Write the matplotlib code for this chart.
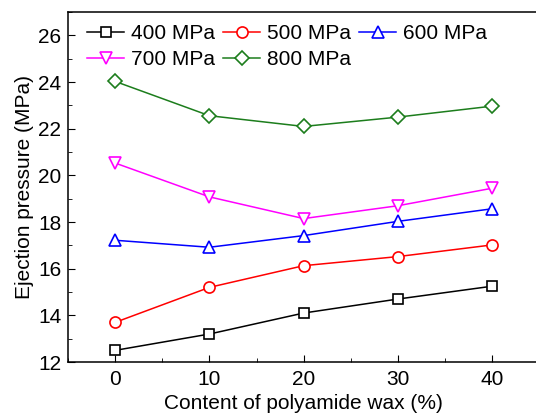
import matplotlib
matplotlib.use("Agg")
import matplotlib.pyplot as plt
from matplotlib.ticker import MultipleLocator

plt.rcParams['font.family'] = ['Liberation Sans', 'DejaVu Sans']

content = [0, 10, 20, 30, 40]
p400 = [12.5, 13.2, 14.1, 14.7, 15.25]
p500 = [13.7, 15.2, 16.13, 16.52, 17.02]
p600 = [17.22, 16.92, 17.42, 18.03, 18.57]
p700 = [20.53, 19.08, 18.15, 18.7, 19.45]
p800 = [24.03, 22.56, 22.1, 22.5, 22.97]

series = [
    ("400 MPa", p400, "black", "s"),
    ("500 MPa", p500, "#ff0000", "o"),
    ("600 MPa", p600, "#0000ff", "^"),
    ("700 MPa", p700, "#ff00ff", "v"),
    ("800 MPa", p800, "#1c7d1c", "D"),
]

fig = plt.figure(figsize=(5.36, 4.19), dpi=100)
ax = fig.add_axes([0.127, 0.136, 0.879, 0.835])

lines = []
for name, vals, col, mk in series:
    ms = 7 if mk in ("s", "D") else 8
    ln, = ax.plot(content, vals, color=col, marker=mk, markersize=ms,
                  markerfacecolor="white", markeredgecolor=col, linewidth=1.1,
                  markeredgewidth=1.2, label=name)
    lines.append(ln)

ax.set_xlim(-5, 45)
ax.set_ylim(12, 27)
ax.xaxis.set_major_locator(MultipleLocator(10))
ax.xaxis.set_minor_locator(MultipleLocator(5))
ax.yaxis.set_major_locator(MultipleLocator(2))
ax.yaxis.set_minor_locator(MultipleLocator(1))
ax.tick_params(which="both", direction="in", labelsize=15)
ax.tick_params(which="major", length=5)
ax.tick_params(which="minor", length=3)
ax.tick_params(axis="x", pad=6)
ax.tick_params(axis="y", pad=5)
for s in ax.spines.values():
    s.set_linewidth(1.1)

ax.set_xlabel("Content of polyamide wax (%)", fontsize=15, labelpad=3)
ax.set_ylabel("Ejection pressure (MPa)", fontsize=15, labelpad=3)

# row-wise legend order
order = [0, 3, 1, 4, 2]
ax.legend([lines[i] for i in order], [series[i][0] for i in order],
          ncol=3, loc="upper left", bbox_to_anchor=(0.0, 1.02),
          frameon=False, fontsize=15,
          handlelength=1.8, handletextpad=0.3, columnspacing=0.4,
          labelspacing=0.35, borderaxespad=0.5, borderpad=0.4)

fig.savefig("out.png", dpi=100)
